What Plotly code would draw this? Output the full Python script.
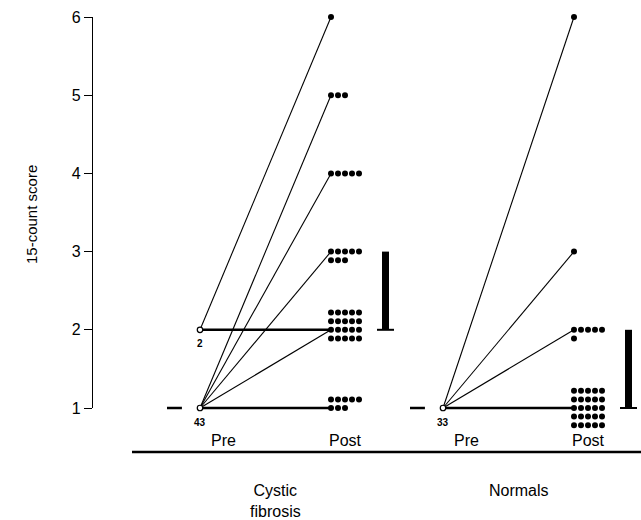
import plotly.graph_objects as go

# ---------------- data ----------------
score_ticks = [1, 2, 3, 4, 5, 6]
group_names = ["Cystic<br>fibrosis", "Normals"]
phase_labels = ["Pre", "Post"]

cf_pre_scores = [1, 2]
cf_pre_n = [43, 2]
cf_post_counts = [8, 20, 8, 5, 3, 1]      # number of subjects with post score 1..6
cf_links = [(1, 1), (1, 2), (1, 3), (1, 4), (1, 5), (2, 2), (2, 6)]

nl_pre_scores = [1]
nl_pre_n = [33]
nl_post_counts = [25, 6, 1, 0, 0, 1]
nl_links = [(1, 1), (1, 2), (1, 3), (1, 6)]

pre_median = [1, 1]
post_range = [(2, 3), (1, 2)]

# ---------------- geometry / layout ----------------
W, H = 641, 520
PXU = 131.0                  # px per x unit (Pre -> Post distance)
X0PX = 200.0                 # pixel of CF pre
Y1PX, Y6PX = 408.0, 17.0
PYU = (Y1PX - Y6PX) / 5.0
xr = [-X0PX / PXU, (W - X0PX) / PXU]
yr = [1 - (H - Y1PX) / PYU, 6 + Y6PX / PYU]

group_off = [0.0, (443 - X0PX) / PXU]
DX = 7.0 / PXU               # dot spacing
DY = 8.6 / PYU               # row spacing
PER_ROW = 5
# which row (counted from the top) of each dot stack sits on the score line
cf_anchor_row = [1, 2, 0, 0, 0, 0]
nl_anchor_row = [2, 0, 0, 0, 0, 0]

fig = go.Figure()
FONT = "Liberation Sans, Arial, Helvetica, sans-serif"


def add_group(g, pre_scores, pre_n, post_counts, links, anchors):
    pre_x = g
    post_x = g + 1
    for a, b in links:
        w = 2.6 if a == b else 1.1
        fig.add_trace(go.Scatter(x=[pre_x, post_x], y=[a, b], mode="lines",
                                 line=dict(color="black", width=w),
                                 hoverinfo="skip", showlegend=False))
    xs, ys = [], []
    for i, c in enumerate(post_counts):
        s = i + 1
        if c == 0:
            continue
        for k in range(c):
            r = k // PER_ROW
            col = k % PER_ROW
            xs.append(post_x + col * DX)
            ys.append(s + (anchors[i] - r) * DY)
    fig.add_trace(go.Scatter(x=xs, y=ys, mode="markers",
                             marker=dict(color="black", size=6),
                             cliponaxis=False, hoverinfo="skip", showlegend=False))
    fig.add_trace(go.Scatter(x=[pre_x] * len(pre_scores), y=pre_scores, mode="markers",
                             marker=dict(color="white", size=5.5, line=dict(color="black", width=1.2)),
                             cliponaxis=False, hoverinfo="skip", showlegend=False))
    for s, n in zip(pre_scores, pre_n):
        fig.add_annotation(x=pre_x, y=s, text=f"<b>{n}</b>", showarrow=False, yshift=-14,
                           font=dict(size=10, color="black", family=FONT))


add_group(group_off[0], cf_pre_scores, cf_pre_n, cf_post_counts, cf_links, cf_anchor_row)
add_group(group_off[1], nl_pre_scores, nl_pre_n, nl_post_counts, nl_links, nl_anchor_row)

for gi, g in enumerate(group_off):
    m = pre_median[gi]
    fig.add_trace(go.Scatter(x=[g - 0.195 - 0.057, g - 0.195 + 0.057], y=[m, m], mode="lines",
                             line=dict(color="black", width=2.5), hoverinfo="skip", showlegend=False))
    lo, hi = post_range[gi]
    bx = g + 1.416
    fig.add_trace(go.Scatter(x=[bx, bx], y=[lo, hi], mode="lines",
                             line=dict(color="black", width=7), hoverinfo="skip", showlegend=False))
    fig.add_trace(go.Scatter(x=[bx - 0.065, bx + 0.065], y=[lo, lo], mode="lines",
                             line=dict(color="black", width=2), hoverinfo="skip", showlegend=False))
    ly = 1 - (440 - Y1PX) / PYU
    fig.add_annotation(x=g + 0.176, y=ly, text=phase_labels[0], showarrow=False,
                       font=dict(size=16, color="black", family=FONT))
    fig.add_annotation(x=g + 1 + 2 * DX, y=ly, text=phase_labels[1], showarrow=False,
                       font=dict(size=16, color="black", family=FONT))
    gy = 1 - (490 - Y1PX) / PYU
    fig.add_annotation(x=g + 0.58, y=gy, text=group_names[gi], showarrow=False,
                       yanchor="middle" if gi == 1 else "top", yshift=0 if gi == 1 else 10,
                       font=dict(size=16, color="black", family=FONT))

base_y = 1 - (452 - Y1PX) / PYU
fig.add_shape(type="line", xref="x", yref="y", x0=(132 - X0PX) / PXU, x1=xr[1],
              y0=base_y, y1=base_y, line=dict(color="black", width=2.5))

fig.add_trace(go.Scatter(x=[0], y=[1], xaxis="x2", yaxis="y2", mode="markers",
                         marker=dict(opacity=0), hoverinfo="skip", showlegend=False))

fig.update_layout(
    template="none",
    width=W, height=H, margin=dict(l=0, r=0, t=0, b=0, autoexpand=False),
    paper_bgcolor="white", plot_bgcolor="rgba(0,0,0,0)",
    font=dict(family=FONT, color="black"),
    xaxis=dict(range=xr, visible=False, fixedrange=True, automargin=False),
    yaxis=dict(range=yr, visible=False, fixedrange=True, automargin=False),
    xaxis2=dict(domain=[0, 1], range=[0, 1], visible=False, anchor="y2", automargin=False),
    yaxis2=dict(domain=[(H - Y1PX) / H, (H - Y6PX) / H], range=[1, 6], anchor="free",
                position=92 / W, showline=True, linecolor="black", linewidth=1.2,
                ticks="outside", ticklen=8, tickcolor="black", tickwidth=1.2,
                tickvals=score_ticks, tickfont=dict(size=16, family=FONT, color="black"),
                showgrid=False, zeroline=False, automargin=False),
    showlegend=False,
)
fig.add_annotation(xref="paper", yref="paper", x=31 / W, y=(H - 215) / H, text="15-count score",
                   xanchor="center", yanchor="middle",
                   textangle=-90, showarrow=False, font=dict(size=15, family=FONT, color="black"))

fig.write_html("out.html", config={"displayModeBar": False},
               post_script="document.body.style.margin='0';document.body.style.overflow='hidden';")
